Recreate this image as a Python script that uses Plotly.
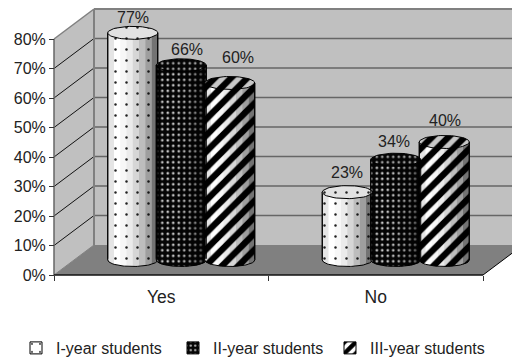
import numpy as np
import plotly.graph_objects as go

# Survey answers, in percent
categories = ["Yes", "No"]
series_names = ["I-year students", "II-year students", "III-year students"]
series_values = [[77, 23], [66, 34], [60, 40]]
tick_values = [0, 10, 20, 30, 40, 50, 60, 70, 80]
tick_labels = ["0%", "10%", "20%", "30%", "40%", "50%", "60%", "70%", "80%"]

# Figure geometry
W, H = 512, 361
PX_X0, PX_X1 = 54, 483      # front plane, left and right
PX_Y0, PX_Y80 = 275, 39     # front plane, 0% and 80%
px_per_cat = (PX_X1 - PX_X0) / 2
px_per_pct = (PX_Y0 - PX_Y80) / 80
x_range = [-0.5 - PX_X0 / px_per_cat, 1.5 + (W - PX_X1) / px_per_cat]
y_range = [-(H - PX_Y0) / px_per_pct, PX_Y0 / px_per_pct]

# Oblique depth of the box, in axis units
DEPTH_X = 40 / px_per_cat
DEPTH_Y = 30 / px_per_pct
LEFT, RIGHT, TOP = -0.5, 1.5, 80

# Cylinder shape
CYL_W = 50 / px_per_cat
CYL_STEP = 48.5 / px_per_cat
ELL_H = 6.5 / px_per_pct
LIFT_X = DEPTH_X / 2
LIFT_Y = DEPTH_Y / 2

# Fill for each series
patterns = [
    dict(shape=".", size=11, solidity=0.04, fgcolor="#222222", bgcolor="#ffffff", fgopacity=1),
    dict(shape=".", size=5.5, solidity=0.2, fgcolor="#c8c8c8", bgcolor="#050505", fgopacity=1),
    dict(shape="/", size=11.5, solidity=0.55, fgcolor="#000000", bgcolor="#ffffff", fgopacity=1),
]
top_patterns = [
    dict(shape=".", size=11, solidity=0.04, fgcolor="#222222", bgcolor="#e2e2e2", fgopacity=1),
    dict(shape=".", size=5.5, solidity=0.2, fgcolor="#9a9a9a", bgcolor="#050505", fgopacity=1),
    dict(shape="/", size=11.5, solidity=0.55, fgcolor="#000000", bgcolor="#c8c8c8", fgopacity=1),
]
# Left to right shading across a cylinder, as black opacity
shade_edges = np.linspace(-1, 1, 9)
shade_alpha = [0.10, 0.0, 0.03, 0.08, 0.16, 0.26, 0.38, 0.55]

# Text offsets above each cylinder top, pixels
label_dx = [[0, 0], [6, -2], [8, 1]]
label_dy = [[15, 20], [16, 18], [26, 22]]

fig = go.Figure()


def arc(u0, u1, n=12):
    """Points along the front edge of the base between two cylinder fractions."""
    u = np.linspace(u0, u1, n)
    return u, -ELL_H * np.sqrt(np.clip(1 - u ** 2, 0, 1))


# Cylinder bodies
for i, name in enumerate(series_names):
    centers = [c + LIFT_X + (i - 1) * CYL_STEP for c in range(len(categories))]
    fig.add_bar(
        x=centers, y=series_values[i], base=LIFT_Y, width=CYL_W, name=name,
        marker=dict(color=patterns[i]["bgcolor"], pattern=patterns[i],
                    line=dict(width=1, color="#000000")),
        hoverinfo="skip",
    )

annotations = []
for i, name in enumerate(series_names):
    for j, v in enumerate(series_values[i]):
        cx = j + LIFT_X + (i - 1) * CYL_STEP
        half = CYL_W / 2
        top = LIFT_Y + v

        # Base, rounded front half
        u, dy = arc(-1, 1, 30)
        fig.add_scatter(
            x=list(cx + u * half) + [cx + half, cx - half],
            y=list(LIFT_Y + dy) + [LIFT_Y + 0.4, LIFT_Y + 0.4],
            mode="none", fill="toself", fillcolor=patterns[i]["bgcolor"],
            fillpattern=patterns[i], showlegend=False, hoverinfo="skip",
        )

        # Shading strips across the whole height
        for k, alpha in enumerate(shade_alpha):
            if alpha == 0:
                continue
            u, dy = arc(shade_edges[k], shade_edges[k + 1], 6)
            fig.add_scatter(
                x=list(cx + u * half) + [cx + shade_edges[k + 1] * half, cx + shade_edges[k] * half],
                y=list(LIFT_Y + dy) + [top, top],
                mode="none", fill="toself", fillcolor=f"rgba(0,0,0,{alpha})",
                showlegend=False, hoverinfo="skip",
            )

        # Outline: sides and lower edge
        u, dy = arc(-1, 1, 40)
        fig.add_scatter(
            x=[cx - half] + list(cx + u * half) + [cx + half],
            y=[top] + list(LIFT_Y + dy) + [top],
            mode="lines", line=dict(color="#000000", width=1),
            showlegend=False, hoverinfo="skip",
        )

        # Top face
        t = np.linspace(0, 2 * np.pi, 60)
        fig.add_scatter(
            x=cx + half * np.cos(t), y=top + ELL_H * np.sin(t),
            mode="lines", line=dict(color="#000000", width=1),
            fill="toself", fillcolor=top_patterns[i]["bgcolor"], fillpattern=top_patterns[i],
            showlegend=False, hoverinfo="skip",
        )

        annotations.append(dict(
            x=cx, y=top, xref="x", yref="y", text=f"{v}%", showarrow=False,
            xshift=label_dx[i][j], yshift=label_dy[i][j],
            font=dict(family="Liberation Sans", size=16, color="#222222"),
        ))

# Box: side wall, back wall, floor and their grid lines
shapes = []


def poly(pts, fill, line_color=None, line_width=0):
    path = "M" + " L".join(f"{x},{y}" for x, y in pts) + " Z"
    shapes.append(dict(type="path", path=path, xref="x", yref="y", layer="below",
                       fillcolor=fill, line=dict(color=line_color or fill, width=line_width)))


def seg(x0, y0, x1, y1, color, width):
    shapes.append(dict(type="line", x0=x0, y0=y0, x1=x1, y1=y1, xref="x", yref="y",
                       layer="below", line=dict(color=color, width=width)))


BX0, BX1 = LEFT + DEPTH_X, RIGHT + DEPTH_X
poly([(LEFT, 0), (BX0, DEPTH_Y), (BX0, TOP + DEPTH_Y), (LEFT, TOP)], "#c0c0c0")
poly([(BX0, DEPTH_Y), (BX1, DEPTH_Y), (BX1, TOP + DEPTH_Y), (BX0, TOP + DEPTH_Y)], "#c0c0c0")
poly([(LEFT, 0), (RIGHT, 0), (BX1, DEPTH_Y), (BX0, DEPTH_Y)], "#808080")
for v in tick_values[1:-1]:
    seg(LEFT, v, BX0, v + DEPTH_Y, "#111111", 1)
    seg(BX0, v + DEPTH_Y, BX1, v + DEPTH_Y, "#666666", 1.5)
seg(LEFT, TOP, BX0, TOP + DEPTH_Y, "#808080", 1.5)
seg(BX0, TOP + DEPTH_Y, BX1, TOP + DEPTH_Y, "#808080", 2)
seg(BX0, DEPTH_Y, BX0, TOP + DEPTH_Y, "#808080", 2)
seg(LEFT, 0, BX0, DEPTH_Y, "#808080", 1)
seg(RIGHT, 0, BX1, DEPTH_Y, "#000000", 1)
seg(LEFT, 0, LEFT, TOP, "#666666", 1.5)
seg(LEFT, 0, RIGHT, 0, "#111111", 1.5)

font = dict(family="Liberation Sans", size=16, color="#222222")
big_font = dict(family="Liberation Sans", size=17.5, color="#222222")
legend_font = dict(family="Liberation Sans", size=16, color="#222222")
fig.update_layout(
    width=W, height=H, margin=dict(l=0, r=0, t=0, b=0, autoexpand=False),
    paper_bgcolor="#ffffff", plot_bgcolor="#ffffff",
    barmode="overlay", font=font, shapes=shapes, annotations=annotations,
    xaxis=dict(
        domain=[0, 1], range=x_range, anchor="free", position=(H - PX_Y0) / H,
        tickmode="array", tickvals=list(range(len(categories))), ticktext=categories,
        tickfont=big_font, automargin=False,
        ticks="", showgrid=False, zeroline=False, showline=False, ticklabelstandoff=9,
        minor=dict(tickmode="array", tickvals=[LEFT, 0.5, RIGHT], ticks="outside",
                   ticklen=5, tickcolor="#333333", tickwidth=1, showgrid=False),
    ),
    yaxis=dict(
        domain=[0, 1], range=y_range, anchor="free", position=PX_X0 / W,
        tickmode="array", tickvals=tick_values, ticktext=tick_labels, automargin=False,
        ticks="outside", ticklen=5, tickcolor="#333333", showgrid=False,
        zeroline=False, showline=False,
    ),
    legend=dict(
        orientation="h", x=16 / W, y=(H - 331) / H, xanchor="left", yanchor="top",
        bgcolor="rgba(0,0,0,0)", entrywidth=112, entrywidthmode="pixels",
        traceorder="normal", font=legend_font,
    ),
)

fig.write_html("out.html")
